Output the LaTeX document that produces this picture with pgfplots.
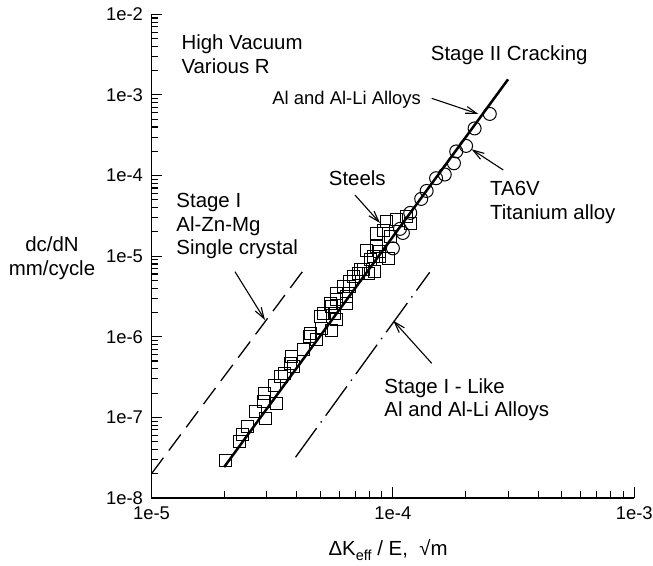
\documentclass[border=0pt]{standalone}
\usepackage{pgfplots}
\pgfplotsset{compat=1.18}
\usepackage{fontspec}
\setmainfont{Liberation Sans}
\usetikzlibrary{arrows.meta}
\newcommand{\anno}{\fontsize{20.5}{24}\selectfont}
\begin{document}
\begin{tikzpicture}[barb/.style={-{Straight Barb[length=11bp,width=7bp]}, line width=1.1bp}]
\begin{axis}[name=ax, scale only axis, width=482.8bp, height=483.7bp,
  xmode=log, ymode=log, xmin=1e-5, xmax=1e-3, ymin=1e-8, ymax=1e-2,
  axis lines=left, axis line style={-, line width=1.4bp},
  tick align=inside, major tick length=11bp, minor tick length=7bp,
  every tick/.style={black, line width=1.1bp},
  xtick={1e-5,1e-4,1e-3}, xticklabels={1e-5,1e-4,1e-3},
  minor xtick={2e-5,3e-5,4e-5,5e-5,6e-5,7e-5,8e-5,9e-5,2e-4,3e-4,4e-4,5e-4,6e-4,7e-4,8e-4,9e-4},
  ytick={1e-8,1e-7,1e-6,1e-5,1e-4,1e-3,1e-2},
  yticklabels={1e-8,1e-7,1e-6,1e-5,1e-4,1e-3,1e-2},
  minor ytick={2e-8,3e-8,4e-8,5e-8,6e-8,7e-8,8e-8,9e-8,
    2e-7,3e-7,4e-7,5e-7,6e-7,7e-7,8e-7,9e-7,
    2e-6,3e-6,4e-6,5e-6,6e-6,7e-6,8e-6,9e-6,
    2e-5,3e-5,4e-5,5e-5,6e-5,7e-5,8e-5,9e-5,
    2e-4,3e-4,4e-4,5e-4,6e-4,7e-4,8e-4,9e-4,
    2e-3,3e-3,4e-3,5e-3,6e-3,7e-3,8e-3,9e-3},
  xticklabel style={font=\fontsize{18.5}{18.5}\selectfont, yshift=-5bp},
  yticklabel style={font=\fontsize{18.5}{18.5}\selectfont, xshift=-5bp},
  clip=false,
]
% Steels (squares)
\addplot[only marks, mark=square, mark size=6bp, mark options={line width=1bp, black}] coordinates {
(2.02e-5,2.88e-8) (2.31e-5,4.99e-8) (2.39e-5,6.05e-8) (2.49e-5,7.67e-8)
(2.71e-5,1.18e-7) (2.95e-5,1.99e-7) (2.98e-5,9.74e-8) (2.90e-5,1.57e-7)
(3.28e-5,1.50e-7) (3.22e-5,2.52e-7) (3.44e-5,3.26e-7) (3.57e-5,3.52e-7)
(3.81e-5,5.66e-7) (3.87e-5,4.26e-7) (3.75e-5,4.69e-7) (4.26e-5,6.86e-7)
(4.51e-5,1.02e-6) (4.83e-5,9.13e-7) (4.99e-5,1.78e-6) (5.07e-5,1.27e-6)
(5.58e-5,1.21e-6) (5.49e-5,2.60e-6) (5.75e-5,1.96e-6) (5.85e-5,3.46e-6)
(6.44e-5,3.14e-6) (6.23e-5,4.18e-6) (6.64e-5,4.83e-6) (7.19e-5,6.13e-6)
(7.91e-5,6.13e-6) (7.54e-5,6.74e-6) (8.30e-5,9.86e-6) (9.57e-5,9.42e-6)
(8.84e-5,1.14e-5) (9.43e-5,2.68e-5) (1.04e-4,2.81e-5) (1.18e-4,2.56e-5)
(1.14e-4,3.09e-5) (9.13e-5,2.11e-5) (8.57e-5,1.92e-5) (9.73e-5,1.75e-5)
(7.79e-5,1.19e-5) (8.57e-5,1.31e-5) (8.84e-5,9.86e-6) (8.04e-5,8.97e-6)
(7.31e-5,6.74e-6) (6.85e-5,5.57e-6) (8.43e-5,6.42e-6) (6.64e-5,4.18e-6)
(5.85e-5,2.86e-6) (5.58e-5,2.36e-6) (6.44e-5,2.60e-6) (5.15e-5,1.96e-6)
(5.85e-5,1.62e-6) (4.54e-5,1.10e-6)
};
% TA6V (circles)
\addplot[only marks, mark=o, mark size=6.5bp, mark options={line width=1bp, black}] coordinates {
(2.52e-4,5.81e-4) (2.18e-4,3.84e-4) (2.01e-4,2.33e-4) (1.83e-4,1.99e-4)
(1.79e-4,1.42e-4) (1.64e-4,1.03e-4) (1.51e-4,9.26e-5) (1.38e-4,6.44e-5)
(1.31e-4,5.13e-5) (1.18e-4,3.44e-5) (1.10e-4,1.94e-5) (1.07e-4,2.18e-5)
(1.00e-4,1.25e-5)
};
% Stage II line
\addplot[black, line width=2.5bp] coordinates {(2e-5,2.42e-8) (3.0e-4,1.56e-3)};
% Stage I dashed
\addplot[black, line width=1.3bp, dash pattern=on 20bp off 9bp] coordinates {(1e-5,2e-8) (4.4e-5,7.6e-6)};
% Stage I-like dash-dot
\addplot[black, line width=1.3bp, dash pattern=on 36bp off 7bp on 1.5bp off 7bp] coordinates {(3.95e-5,3.2e-8) (1.42e-4,6.3e-6)};

% annotations
\node[anchor=west, align=left, font=\anno] at (rel axis cs:0.0549,0.918) {High Vacuum\\Various R};
\node[font=\anno] at (rel axis cs:0.741,0.916) {Stage II Cracking};
\node[font=\fontsize{18.5}{22}\selectfont] at (rel axis cs:0.4043,0.8228) {Al and Al-Li Alloys};
\draw[barb] (rel axis cs:0.5804,0.8263) -- (rel axis cs:0.6769,0.7939);
\node[font=\anno] at (rel axis cs:0.4263,0.6616) {Steels};
\draw[barb] (rel axis cs:0.4215,0.6264) -- (rel axis cs:0.4733,0.5685);
\node[anchor=west, align=left, font=\anno] at (rel axis cs:0.0445,0.5623) {Stage I\\Al-Zn-Mg\\Single crystal};
\draw[barb] (rel axis cs:0.1729,0.4679) -- (rel axis cs:0.2351,0.368);
\node[anchor=west, align=left, font=\anno] at (rel axis cs:0.6943,0.6109) {TA6V\\Titanium alloy};
\draw[barb] (rel axis cs:0.7287,0.6781) -- (rel axis cs:0.6632,0.7209);
\node[anchor=west, align=left, font=\anno] at (rel axis cs:0.4753,0.2032) {Stage I - Like\\Al and Al-Li Alloys};
\draw[barb] (rel axis cs:0.5804,0.2785) -- (rel axis cs:0.5008,0.3666);
% axis labels
\node[align=center, font=\anno] at (rel axis cs:-0.206,0.496) {dc/dN\\mm/cycle};
\node[font=\anno] at (rel axis cs:0.490,-0.1075) {ΔK\raisebox{-0.4ex}{\fontsize{14.5}{14.5}\selectfont eff} / E,\ \ √m};
\end{axis}
\pgfresetboundingbox
\path ([shift={(-151.5bp,-68bp)}]ax.south west) rectangle ([shift={(18.7bp,14.3bp)}]ax.north east);
\end{tikzpicture}
\end{document}
